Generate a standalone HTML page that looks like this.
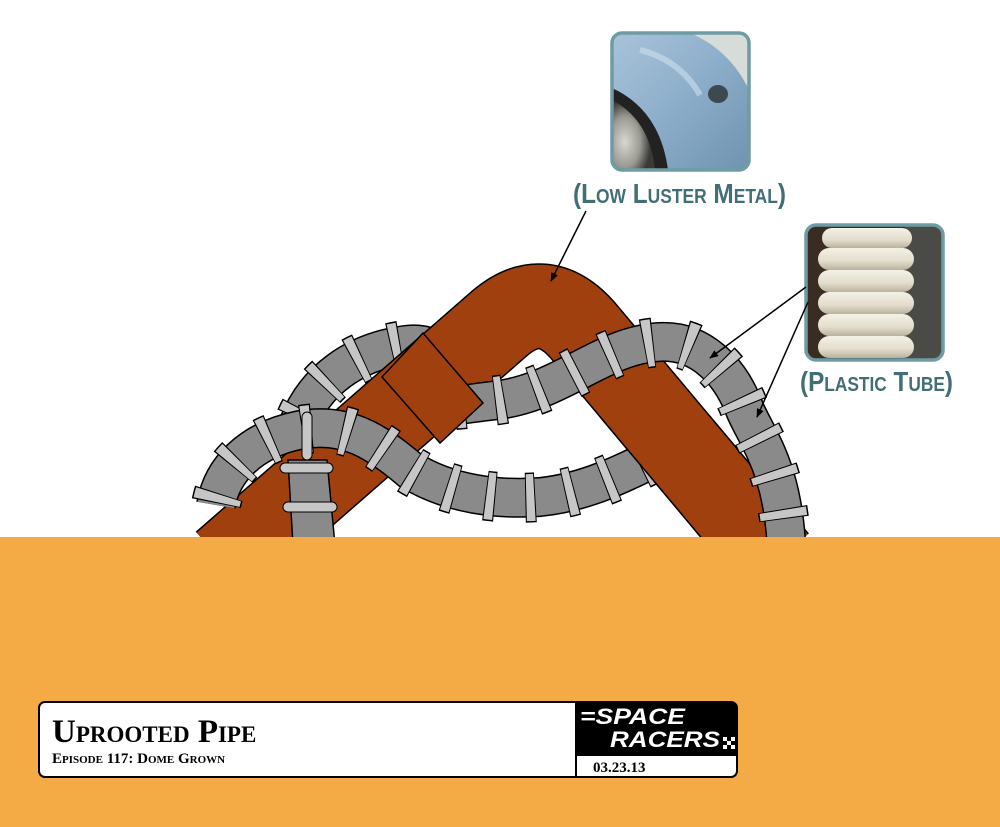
<!DOCTYPE html>
<html><head><meta charset="utf-8"><style>
html,body{margin:0;padding:0;background:#fff;}
body{width:1000px;height:827px;overflow:hidden;position:relative;}
</style></head><body>
<svg width="1000" height="827" viewBox="0 0 1000 827" xmlns="http://www.w3.org/2000/svg" style="position:absolute;left:0;top:0">
<defs>
<linearGradient id="fender" x1="0" y1="0" x2="1" y2="1">
<stop offset="0" stop-color="#a9c3d8"/><stop offset="0.45" stop-color="#8fb0cc"/><stop offset="1" stop-color="#6f93b0"/>
</linearGradient>
<radialGradient id="wheel" cx="0.3" cy="0.6" r="0.6">
<stop offset="0" stop-color="#d8d8d0"/><stop offset="0.6" stop-color="#9a9a92"/><stop offset="1" stop-color="#3a3a36"/>
</radialGradient>
<linearGradient id="ring" x1="0" y1="0" x2="0" y2="1">
<stop offset="0" stop-color="#f4f1e6"/><stop offset="0.6" stop-color="#e2ddcc"/><stop offset="1" stop-color="#b9b29e"/>
</linearGradient>
<clipPath id="c1"><rect x="612" y="33" width="137" height="137" rx="10"/></clipPath>
<clipPath id="c2"><rect x="806" y="225" width="137" height="135" rx="10"/></clipPath>
<clipPath id="lowR"><polygon points="600,415 735,415 735,540 600,540"/></clipPath>
<marker id="ah" viewBox="0 0 10 10" refX="9" refY="5" markerWidth="9" markerHeight="9" orient="auto" markerUnits="userSpaceOnUse"><path d="M0,1 L10,5 L0,9 z" fill="#000"/></marker>
</defs>

<!-- photo 1 -->
<g clip-path="url(#c1)">
<rect x="612" y="33" width="137" height="137" fill="url(#fender)"/>
<path d="M690,33 Q730,50 749,90 L749,33 Z" fill="#d8dcd8"/>
<path d="M612,88 Q660,110 668,170 L612,170 Z" fill="#222"/>
<path d="M612,100 Q650,120 655,170 L612,170 Z" fill="url(#wheel)"/>
<ellipse cx="718" cy="94" rx="10" ry="9" fill="#3c4a50"/>
<path d="M640,50 Q680,60 700,95" stroke="#cfe0ec" stroke-width="6" fill="none" opacity="0.6"/>
</g>
<rect x="612" y="33" width="137" height="137" rx="10" fill="none" stroke="#6e9ca4" stroke-width="3.5"/>

<!-- photo 2 -->
<g clip-path="url(#c2)">
<rect x="806" y="225" width="137" height="135" fill="#3a2c22"/>
<rect x="905" y="225" width="38" height="135" fill="#4a4a46"/>
<rect x="822" y="228" width="90" height="20" rx="10" fill="url(#ring)"/>
<rect x="818" y="248" width="96" height="22" rx="11" fill="url(#ring)"/>
<rect x="818" y="270" width="96" height="22" rx="11" fill="url(#ring)"/>
<rect x="818" y="292" width="96" height="22" rx="11" fill="url(#ring)"/>
<rect x="818" y="314" width="96" height="22" rx="11" fill="url(#ring)"/>
<rect x="818" y="336" width="96" height="22" rx="11" fill="url(#ring)"/>
</g>
<rect x="806" y="225" width="137" height="135" rx="10" fill="none" stroke="#6e9ca4" stroke-width="3.5"/>

<!-- labels -->
<text x="573" y="203" textLength="213" lengthAdjust="spacingAndGlyphs" font-family="'Liberation Sans',sans-serif" font-weight="bold" font-size="28" fill="#426e76" style="font-variant:small-caps">(Low Luster Metal)</text>
<text x="800" y="391" textLength="153" lengthAdjust="spacingAndGlyphs" font-family="'Liberation Sans',sans-serif" font-weight="bold" font-size="28" fill="#426e76" style="font-variant:small-caps">(Plastic Tube)</text>

<!-- L2 left (under left leg) -->
<g fill="none">
<path id="l2l" d="M298,425 C315,380 355,352 405,345 C425,342 440,350 450,360"/>
<use href="#l2l" stroke="#000" stroke-width="40"/>
<use href="#l2l" stroke="#8a8a8a" stroke-width="37"/>
<use href="#l2l" stroke="#000" stroke-width="50" stroke-dasharray="10 30" stroke-dashoffset="-6"/>
<use href="#l2l" stroke="#c6c6c6" stroke-width="47" stroke-dasharray="8 32" stroke-dashoffset="-7"/>
</g>

<!-- pipe -->
<g fill="none" stroke-linecap="butt">
<path id="pp" d="M224,564 L500,323 Q545,285 585,333 L776,561"/>
<use href="#pp" stroke="#000" stroke-width="86"/>
<use href="#pp" stroke="#a0400e" stroke-width="83"/>
</g>

<!-- L2 right -->
<g fill="none">
<path id="l2r" d="M455,405 C470,404 480,402 490,401 C560,395 600,345 660,342 C700,340 730,370 745,410 C758,440 785,470 787,560"/>
<use href="#l2r" stroke="#000" stroke-width="40"/>
<use href="#l2r" stroke="#8a8a8a" stroke-width="37"/>
<use href="#l2r" stroke="#000" stroke-width="50" stroke-dasharray="10 30" stroke-dashoffset="-40"/>
<use href="#l2r" stroke="#c6c6c6" stroke-width="47" stroke-dasharray="8 32" stroke-dashoffset="-41"/>
</g>

<!-- collar -->
<polygon points="382,377 423,333 483,403 440,443" fill="#a0400e" stroke="#000" stroke-width="1.5"/>

<!-- L1 -->
<g fill="none">
<path id="l1" d="M216,505 C222,470 250,440 300,430 C345,422 375,440 410,470 C450,495 500,500 540,497 C590,492 630,470 680,445"/>
<use href="#l1" stroke="#000" stroke-width="40"/>
<use href="#l1" stroke="#8a8a8a" stroke-width="37"/>
<use href="#l1" stroke="#000" stroke-width="50" stroke-dasharray="10 30" stroke-dashoffset="-2"/>
<use href="#l1" stroke="#c6c6c6" stroke-width="47" stroke-dasharray="8 32" stroke-dashoffset="-3"/>
</g>

<!-- vertical tube -->
<polygon points="288,460 327,460 335,545 293,545" fill="#8a8a8a" stroke="#000" stroke-width="1.5"/>
<rect x="280" y="463" width="53" height="10" rx="5" fill="#c6c6c6" stroke="#000" stroke-width="1"/>
<rect x="283" y="502" width="54" height="10" rx="5" fill="#c6c6c6" stroke="#000" stroke-width="1"/>
<rect x="302" y="412" width="10" height="48" rx="5" fill="#c6c6c6" stroke="#000" stroke-width="1"/>

<!-- right leg redraw over L1 end -->
<g fill="none" clip-path="url(#lowR)">
<use href="#pp" stroke="#000" stroke-width="86"/>
<use href="#pp" stroke="#a0400e" stroke-width="83"/>
</g>

<!-- leader lines -->
<line x1="586" y1="211" x2="551" y2="281" stroke="#000" stroke-width="1.5" marker-end="url(#ah)"/>
<line x1="806" y1="287" x2="710" y2="358" stroke="#000" stroke-width="1.5" marker-end="url(#ah)"/>
<line x1="808" y1="302" x2="757" y2="417" stroke="#000" stroke-width="1.5" marker-end="url(#ah)"/>

<!-- ground -->
<rect x="0" y="537" width="1000" height="290" fill="#f4aa45"/>

<!-- title block -->
<rect x="39" y="702" width="698" height="75" rx="6" fill="#fff" stroke="#000" stroke-width="2"/>
<path d="M576,702 L731,702 Q737,702 737,708 L737,756 L576,756 Z" fill="#000"/>
<line x1="576" y1="702" x2="576" y2="777" stroke="#000" stroke-width="2"/>
<text x="52" y="742" font-family="'Liberation Serif',serif" font-weight="bold" font-size="33" fill="#000" style="font-variant:small-caps">Uprooted Pipe</text>
<text x="52" y="763" font-family="'Liberation Serif',serif" font-weight="bold" font-size="15" fill="#000" style="font-variant:small-caps">Episode 117: Dome Grown</text>
<text x="593" y="772" font-family="'Liberation Serif',serif" font-weight="bold" font-size="15" fill="#000">03.23.13</text>
<text x="580" y="724" textLength="105" lengthAdjust="spacingAndGlyphs" font-family="'Liberation Sans',sans-serif" font-style="italic" font-weight="bold" font-size="22" fill="#fff">=SPACE</text>
<text x="610" y="747" textLength="110" lengthAdjust="spacingAndGlyphs" font-family="'Liberation Sans',sans-serif" font-style="italic" font-weight="bold" font-size="22" fill="#fff">RACERS</text>
<g fill="#fff">
<rect x="723" y="737" width="4" height="4"/><rect x="731" y="737" width="4" height="4"/>
<rect x="727" y="741" width="4" height="4"/>
<rect x="723" y="745" width="4" height="4"/><rect x="731" y="745" width="4" height="4"/>
</g>
</svg>
</body></html>
